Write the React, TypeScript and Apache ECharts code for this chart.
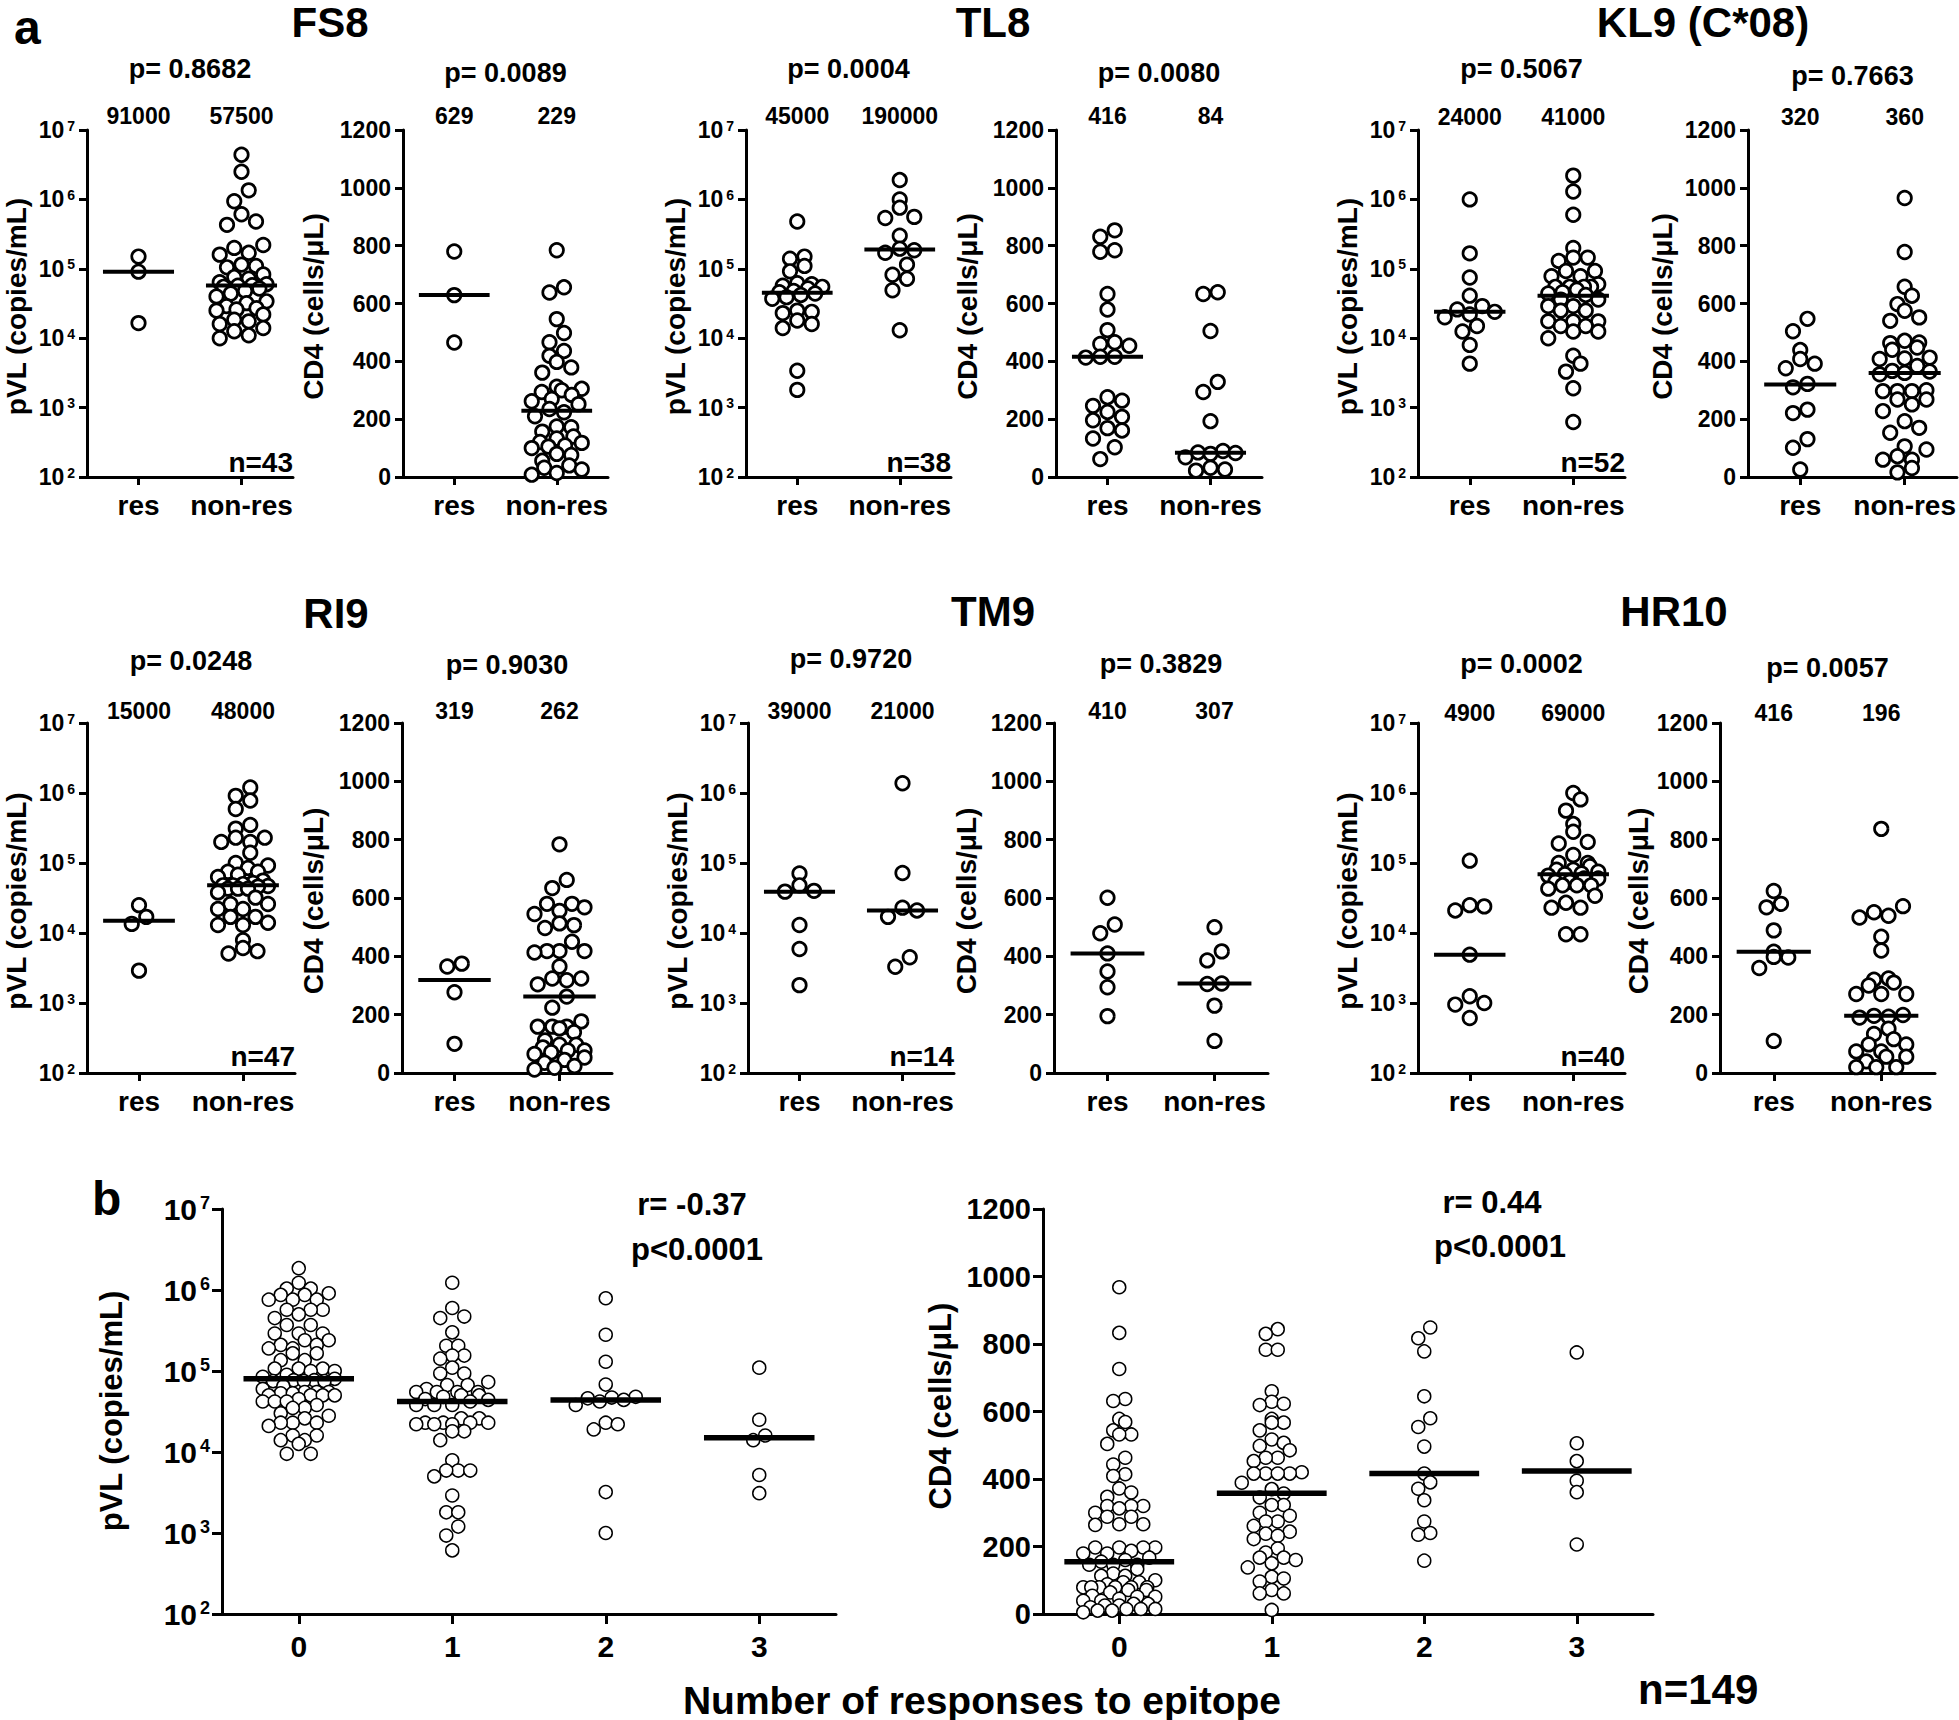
import React, { useEffect, useRef } from 'react';
import * as echarts from 'echarts';

// ---------------- DATA ----------------
const CATS_RES = ['res', 'non-res'];
const CATS_B = ['0', '1', '2', '3'];

// FS8
const FS8_PVL_RES = [150000, 91000, 16500];
const FS8_PVL_NON = [4400000, 2500000, 1350000, 940000, 610000, 480000, 430000, 220000, 200000, 170000, 160000, 115000, 110000, 105000, 83000, 76000, 72000, 64000, 60000, 58000, 57000, 55000, 52000, 48000, 44000, 40000, 34000, 32000, 29000, 27000, 26000, 25000, 22000, 18500, 17500, 16000, 14000, 12600, 11000, 10000];
const FS8_CD4_RES = [780, 629, 465];
const FS8_CD4_NON = [784, 656, 638, 546, 498, 466, 436, 419, 398, 379, 361, 312, 305, 300, 294, 284, 270, 262, 252, 235, 224, 210, 175, 172, 157, 140, 133, 121, 118, 109, 105, 100, 80, 76, 56, 40, 32, 26, 14, 8];
const FS8_MED_PVL = [91000, 57500];
const FS8_MED_CD4 = [629, 229];
const FS8_P = ['0.8682', '0.0089'];
const FS8_N = 43;

// TL8
const TL8_PVL_RES = [480000, 150000, 140000, 110000, 92000, 62000, 60000, 57000, 55000, 52000, 48000, 46000, 44000, 42000, 39000, 37000, 25000, 24000, 23000, 18000, 16000, 14000, 3400, 1800];
const TL8_PVL_NON = [1900000, 1000000, 760000, 560000, 540000, 300000, 195000, 185000, 170000, 115000, 82000, 72000, 49000, 13000];
const TL8_CD4_RES = [853, 831, 784, 779, 633, 579, 508, 466, 460, 454, 416, 416, 413, 276, 264, 246, 225, 208, 196, 169, 161, 133, 103, 62];
const TL8_CD4_NON = [639, 633, 505, 329, 294, 193, 90, 85, 83, 80, 68, 32, 26, 22];
const TL8_MED_PVL = [45000, 190000];
const TL8_MED_CD4 = [416, 84];
const TL8_P = ['0.0004', '0.0080'];
const TL8_N = 38;

// KL9 (C*08)
const KL9_PVL_RES = [1000000, 167000, 75000, 41000, 29000, 26000, 24000, 22000, 20000, 15000, 12500, 8000, 4300];
const KL9_PVL_NON = [2200000, 1300000, 600000, 200000, 145000, 145000, 130000, 93000, 93000, 78000, 78000, 60000, 55000, 55000, 55000, 55000, 50000, 46000, 44000, 42000, 36000, 36000, 29000, 29000, 25000, 25000, 17500, 17500, 17500, 15000, 15000, 12500, 12500, 10000, 5600, 4300, 3300, 1900, 620];
const KL9_CD4_RES = [547, 504, 439, 408, 392, 376, 322, 310, 233, 221, 131, 101, 26];
const KL9_CD4_NON = [965, 778, 658, 627, 598, 575, 552, 540, 471, 465, 463, 448, 440, 413, 410, 408, 384, 367, 365, 360, 355, 300, 297, 297, 297, 268, 268, 251, 228, 193, 170, 153, 106, 95, 72, 60, 60, 31, 16];
const KL9_MED_PVL = [24000, 41000];
const KL9_MED_CD4 = [320, 360];
const KL9_P = ['0.5067', '0.7663'];
const KL9_N = 52;

// RI9
const RI9_PVL_RES = [25000, 17000, 13500, 2900];
const RI9_PVL_NON = [1200000, 910000, 780000, 590000, 350000, 310000, 230000, 230000, 200000, 200000, 140000, 100000, 92000, 85000, 75000, 75000, 68000, 63000, 56000, 52000, 50000, 48000, 48000, 47000, 46000, 43000, 43000, 43000, 38000, 32000, 26000, 26000, 22000, 22000, 17000, 17000, 14000, 13000, 13000, 7900, 6100, 5500, 5100];
const RI9_CD4_RES = [375, 365, 277, 100];
const RI9_CD4_NON = [784, 662, 634, 580, 580, 568, 556, 545, 513, 507, 497, 450, 418, 418, 418, 413, 365, 324, 324, 318, 304, 262, 224, 177, 159, 159, 159, 153, 140, 112, 97, 97, 88, 77, 77, 71, 65, 53, 45, 35, 24, 18, 12];
const RI9_MED_PVL = [15000, 48000];
const RI9_MED_CD4 = [319, 262];
const RI9_P = ['0.0248', '0.9030'];
const RI9_N = 47;

// TM9
const TM9_PVL_RES = [71000, 48000, 40000, 39000, 13000, 5900, 1800];
const TM9_PVL_NON = [1380000, 72000, 23000, 21000, 17000, 4500, 3300];
const TM9_CD4_RES = [601, 509, 479, 410, 348, 294, 195];
const TM9_CD4_NON = [500, 417, 386, 307, 305, 231, 110];
const TM9_MED_PVL = [39000, 21000];
const TM9_MED_CD4 = [410, 307];
const TM9_P = ['0.9720', '0.3829'];
const TM9_N = 14;

// HR10
const HR10_PVL_RES = [108000, 25000, 24000, 21000, 4900, 1250, 1000, 950, 610];
const HR10_PVL_NON = [1000000, 810000, 560000, 360000, 280000, 200000, 190000, 130000, 100000, 100000, 90000, 80000, 80000, 75000, 71000, 69000, 66000, 60000, 60000, 54000, 54000, 48000, 48000, 48000, 43000, 34000, 27000, 23000, 23000, 9600, 9600];
const HR10_CD4_RES = [624, 580, 568, 489, 416, 398, 396, 360, 110];
const HR10_CD4_NON = [837, 572, 551, 539, 533, 467, 420, 324, 320, 310, 300, 271, 271, 271, 199, 196, 193, 190, 152, 134, 116, 98, 98, 74, 74, 56, 56, 40, 20, 20, 20];
const HR10_MED_PVL = [4900, 69000];
const HR10_MED_CD4 = [416, 196];
const HR10_P = ['0.0002', '0.0057'];
const HR10_N = 40;

// Panel b: number of responses (0,1,2,3)
const B_PVL_0 = [1860000, 1230000, 1040000, 1040000, 910000, 870000, 870000, 760000, 760000, 760000, 570000, 570000, 570000, 500000, 450000, 370000, 370000, 290000, 290000, 290000, 240000, 240000, 210000, 210000, 190000, 190000, 165000, 165000, 136000, 136000, 107000, 107000, 107000, 100000, 100000, 90000, 85000, 80000, 77000, 77000, 75000, 75000, 75000, 65000, 60000, 55000, 55000, 55000, 53000, 53000, 50000, 50000, 50000, 50000, 45000, 42000, 42000, 42000, 38000, 35000, 35000, 30000, 28000, 26000, 23000, 23000, 23000, 21000, 16000, 16000, 14000, 14000, 12600, 9500, 9500];
const B_PVL_1 = [1230000, 600000, 470000, 450000, 300000, 205000, 205000, 155000, 155000, 142000, 110000, 93000, 93000, 73000, 67000, 67000, 60000, 55000, 55000, 55000, 55000, 50000, 50000, 48000, 45000, 44000, 42000, 38000, 38000, 38000, 26000, 26000, 23000, 23000, 23000, 23000, 22000, 22000, 22000, 18000, 18000, 14000, 7900, 5900, 5900, 5900, 5000, 2900, 1800, 1800, 1200, 930, 610];
const B_PVL_2 = [790000, 280000, 130000, 68000, 48000, 47000, 46000, 44000, 42000, 38000, 23000, 22000, 19000, 3200, 1000];
const B_PVL_3 = [110000, 25000, 16000, 14000, 5200, 3100];
const B_PVL_MED = [80000, 42000, 44000, 15000];

const B_CD4_0 = [968, 833, 726, 637, 631, 578, 569, 544, 532, 532, 504, 463, 443, 414, 409, 372, 360, 347, 320, 320, 320, 313, 300, 288, 288, 266, 266, 264, 197, 197, 197, 197, 187, 179, 179, 167, 160, 155, 146, 146, 146, 133, 120, 113, 113, 100, 94, 94, 88, 79, 79, 79, 79, 79, 79, 71, 71, 64, 54, 51, 51, 45, 39, 39, 30, 30, 25, 25, 20, 15, 15, 15, 10, 10, 5];
const B_CD4_1 = [844, 830, 783, 783, 660, 629, 623, 619, 578, 567, 567, 544, 517, 507, 498, 485, 463, 463, 453, 420, 416, 416, 416, 416, 389, 370, 357, 345, 323, 323, 300, 291, 274, 274, 261, 244, 238, 232, 222, 194, 182, 167, 167, 160, 150, 138, 110, 105, 96, 71, 61, 61, 12];
const B_CD4_2 = [849, 817, 778, 645, 580, 554, 496, 416, 390, 371, 337, 274, 240, 235, 158];
const B_CD4_3 = [775, 506, 453, 395, 361, 206];
const B_CD4_MED = [155, 358, 416, 424];

const B_STATS_PVL = ['r= -0.37', 'p<0.0001'];
const B_STATS_CD4 = ['r= 0.44', 'p<0.0001'];
const B_N = 149;

// ---------------- LAYOUT ----------------
const FONT = '"Liberation Sans", Arial, Helvetica, sans-serif';
const PVL_NAME = 'pVL (copies/mL)';
const CD4_NAME = 'CD4 (cells/\u03bcL)';

type Panel = {
  kind: 'log' | 'lin';
  left: number; right: number; top: number; bottom: number;
  cats: string[]; groups: number[][]; meds: number[];
  small: boolean;
};

const R1 = { top: 130, bottom: 477 };
const R2 = { top: 723, bottom: 1073 };
const RB = { top: 1209, bottom: 1614 };

type Block = {
  title: string; tx: number; ty: number;
  pvl: [number, number]; cd4: [number, number]; row: { top: number; bottom: number };
  pvlG: number[][]; cd4G: number[][]; medP: number[]; medC: number[]; p: string[]; n: number;
  pY: [number, number]; medY: number; nY: number; cdName: number;
};

const BLOCKS: Block[] = [
  { title: 'FS8', tx: 330, ty: 22, pvl: [87, 293], cd4: [403, 608], row: R1, pvlG: [FS8_PVL_RES, FS8_PVL_NON], cd4G: [FS8_CD4_RES, FS8_CD4_NON], medP: FS8_MED_PVL, medC: FS8_MED_CD4, p: FS8_P, n: FS8_N, pY: [69, 73], medY: 116, nY: 462, cdName: 90 },
  { title: 'TL8', tx: 993, ty: 22, pvl: [746, 951], cd4: [1056, 1262], row: R1, pvlG: [TL8_PVL_RES, TL8_PVL_NON], cd4G: [TL8_CD4_RES, TL8_CD4_NON], medP: TL8_MED_PVL, medC: TL8_MED_CD4, p: TL8_P, n: TL8_N, pY: [69, 73], medY: 116, nY: 462, cdName: 89 },
  { title: 'KL9 (C*08)', tx: 1703, ty: 22, pvl: [1418, 1625], cd4: [1748, 1957], row: R1, pvlG: [KL9_PVL_RES, KL9_PVL_NON], cd4G: [KL9_CD4_RES, KL9_CD4_NON], medP: KL9_MED_PVL, medC: KL9_MED_CD4, p: KL9_P, n: KL9_N, pY: [69, 76], medY: 117, nY: 462, cdName: 86 },
  { title: 'RI9', tx: 336, ty: 613, pvl: [87, 295], cd4: [402, 612], row: R2, pvlG: [RI9_PVL_RES, RI9_PVL_NON], cd4G: [RI9_CD4_RES, RI9_CD4_NON], medP: RI9_MED_PVL, medC: RI9_MED_CD4, p: RI9_P, n: RI9_N, pY: [661, 665], medY: 711, nY: 1056, cdName: 89 },
  { title: 'TM9', tx: 993, ty: 611, pvl: [748, 954], cd4: [1054, 1268], row: R2, pvlG: [TM9_PVL_RES, TM9_PVL_NON], cd4G: [TM9_CD4_RES, TM9_CD4_NON], medP: TM9_MED_PVL, medC: TM9_MED_CD4, p: TM9_P, n: TM9_N, pY: [659, 664], medY: 711, nY: 1056, cdName: 88 },
  { title: 'HR10', tx: 1674, ty: 611, pvl: [1418, 1625], cd4: [1720, 1935], row: R2, pvlG: [HR10_PVL_RES, HR10_PVL_NON], cd4G: [HR10_CD4_RES, HR10_CD4_NON], medP: HR10_MED_PVL, medC: HR10_MED_CD4, p: HR10_P, n: HR10_N, pY: [664, 668], medY: 713, nY: 1056, cdName: 82 },
];

// Prism-like dot layout: points are binned by pixel height and spread side by side
// in each bin (staggered, capped to a maximum half-width).
function swarm(ys: number[], binH: number, hs: number, maxHalf: number): number[] {
  const idx = ys.map((_, i) => i).sort((a, b) => ys[a] - ys[b]);
  const xs = new Array(ys.length).fill(0);
  let i = 0;
  while (i < idx.length) {
    const start = ys[idx[i]];
    const bin: number[] = [];
    while (i < idx.length && ys[idx[i]] - start < binH) { bin.push(idx[i]); i++; }
    const k = bin.length;
    const step = k > 1 ? Math.min(hs, (2 * maxHalf) / (k - 1)) : 0;
    const slots: number[] = [];
    for (let j = 0; j < k; j += 2) slots.push(j);
    for (let j = 1; j < k; j += 2) slots.push(j);
    bin.forEach((p, j) => { xs[p] = (slots[j] - (k - 1) / 2) * step; });
  }
  return xs;
}

function buildOption() {
  const panels: Panel[] = [];
  const texts: any[] = [];
  const txt = (x: number, y: number, text: string, size: number, align = 'center', rot = 0) => {
    texts.push({
      type: 'text', x, y, rotation: rot, silent: true,
      style: { text, fontSize: size, fontWeight: 'bold', fontFamily: FONT, fill: '#000', align, verticalAlign: 'middle' },
    });
  };

  txt(14, 27, 'a', 48, 'left');
  txt(92, 1198, 'b', 48, 'left');

  BLOCKS.forEach((b) => {
    panels.push({ kind: 'log', left: b.pvl[0], right: b.pvl[1], top: b.row.top, bottom: b.row.bottom, cats: CATS_RES, groups: b.pvlG, meds: b.medP, small: true });
    panels.push({ kind: 'lin', left: b.cd4[0], right: b.cd4[1], top: b.row.top, bottom: b.row.bottom, cats: CATS_RES, groups: b.cd4G, meds: b.medC, small: true });
    txt(b.tx, b.ty, b.title, 42);
    const midY = (b.row.top + b.row.bottom) / 2;
    txt((b.pvl[0] + b.pvl[1]) / 2, b.pY[0], 'p= ' + b.p[0], 27);
    txt((b.cd4[0] + b.cd4[1]) / 2, b.pY[1], 'p= ' + b.p[1], 27);
    txt(b.pvl[1], b.nY, 'n=' + b.n, 28, 'right');
    txt(b.pvl[0] - 71, midY + 3, PVL_NAME, 28, 'center', Math.PI / 2);
    txt(b.cd4[0] - b.cdName, midY + 3, CD4_NAME, 28, 'center', Math.PI / 2);
    const sp = (b.pvl[1] - b.pvl[0]) / 2;
    const sc = (b.cd4[1] - b.cd4[0]) / 2;
    b.medP.forEach((m, i) => txt(b.pvl[0] + (i + 0.5) * sp, b.medY, String(m), 23));
    b.medC.forEach((m, i) => txt(b.cd4[0] + (i + 0.5) * sc, b.medY, String(m), 23));
  });

  panels.push({ kind: 'log', left: 222, right: 836, top: RB.top, bottom: RB.bottom, cats: CATS_B, groups: [B_PVL_0, B_PVL_1, B_PVL_2, B_PVL_3], meds: B_PVL_MED, small: false });
  panels.push({ kind: 'lin', left: 1043, right: 1653, top: RB.top, bottom: RB.bottom, cats: CATS_B, groups: [B_CD4_0, B_CD4_1, B_CD4_2, B_CD4_3], meds: B_CD4_MED, small: false });
  txt(692, 1204, B_STATS_PVL[0], 31);
  txt(697, 1249, B_STATS_PVL[1], 31);
  txt(1492, 1202, B_STATS_CD4[0], 31);
  txt(1500, 1246, B_STATS_CD4[1], 31);
  txt(222 - 111, 1411, PVL_NAME, 31, 'center', Math.PI / 2);
  txt(1043 - 103, 1406, CD4_NAME, 31, 'center', Math.PI / 2);
  txt(982, 1700, 'Number of responses to epitope', 39);
  txt(1638, 1689, 'n=' + B_N, 42, 'left');

  const grid: any[] = [];
  const xAxis: any[] = [];
  const yAxis: any[] = [];
  const series: any[] = [];

  panels.forEach((p, k) => {
    const W = p.right - p.left;
    const H = p.bottom - p.top;
    const aw = 3;
    const tickLen = p.small ? 8 : 10;
    const labFont = p.small ? 23 : 30;
    const supFont = p.small ? 14 : 18;
    const catFont = p.small ? 28 : 30;
    const size = p.small ? 13.5 : 13;
    const border = p.small ? 2.7 : 1.5;
    const medW = p.small ? 4 : 5.5;
    const medHalf = p.small ? 0.345 : 0.36;
    const binH = p.small ? 12.5 : 11;
    const hs = p.small ? 14.5 : 12;
    const maxHalf = p.small ? 25 : 36;

    grid.push({ left: p.left, top: p.top, width: W, height: H });
    xAxis.push({
      type: 'category', gridIndex: k, data: p.cats, boundaryGap: true,
      axisLine: { show: true, onZero: false, lineStyle: { color: '#000', width: aw } },
      axisTick: { show: true, alignWithLabel: true, length: tickLen, lineStyle: { color: '#000', width: aw } },
      axisLabel: { interval: 0, color: '#000', fontSize: catFont, fontWeight: 'bold', fontFamily: FONT, margin: p.small ? 14 : 17 },
      splitLine: { show: false },
    });
    xAxis.push({ type: 'value', gridIndex: k, min: -0.5, max: p.cats.length - 0.5, show: false });

    const common = {
      gridIndex: k,
      axisLine: { show: true, onZero: false, lineStyle: { color: '#000', width: aw } },
      axisTick: { show: true, length: tickLen, lineStyle: { color: '#000', width: aw } },
      splitLine: { show: false },
      minorTick: { show: false },
    };
    if (p.kind === 'log') {
      yAxis.push({
        ...common, type: 'log', logBase: 10, min: 100, max: 10000000,
        axisLabel: {
          margin: 12,
          formatter: (v: number) => `{b|10}{s|${Math.round(Math.log10(v))}}`,
          rich: {
            b: { fontSize: labFont, fontWeight: 'bold', fontFamily: FONT, color: '#000' },
            s: { fontSize: supFont, fontWeight: 'bold', fontFamily: FONT, color: '#000', verticalAlign: 'top', padding: [0, 0, 0, 3] },
          },
        },
      });
    } else {
      yAxis.push({
        ...common, type: 'value', min: 0, max: 1200, interval: 200,
        axisLabel: { margin: 12, color: '#000', fontSize: p.small ? 23 : 29, fontWeight: 'bold', fontFamily: FONT, formatter: (v: number) => String(v) },
      });
    }

    const spacing = W / p.cats.length;
    const toPx = p.kind === 'log' ? (v: number) => ((Math.log10(v) - 2) / 5) * H : (v: number) => (v / 1200) * H;
    p.groups.forEach((g, gi) => {
      const offs = swarm(g.map(toPx), binH, hs, maxHalf);
      series.push({
        type: 'scatter', xAxisIndex: 2 * k + 1, yAxisIndex: k, silent: true, z: 2,
        symbol: 'circle', symbolSize: size,
        itemStyle: { color: '#fff', borderColor: '#000', borderWidth: border, opacity: 1 },
        data: g.map((v, i) => [gi + offs[i] / spacing, v]),
      });
      series.push({
        type: 'line', xAxisIndex: 2 * k + 1, yAxisIndex: k, silent: true, z: 3,
        symbol: 'none', lineStyle: { color: '#000', width: medW, cap: 'butt' },
        data: [[gi - medHalf, p.meds[gi]], [gi + medHalf, p.meds[gi]]],
      });
    });
  });

  return {
    animation: false,
    backgroundColor: '#fff',
    grid, xAxis, yAxis, series,
    graphic: texts,
  };
}

export default function App() {
  const ref = useRef<HTMLDivElement>(null);
  useEffect(() => {
    if (!ref.current) return;
    const chart = echarts.init(ref.current, undefined, { renderer: 'svg' });
    chart.setOption(buildOption());
    return () => chart.dispose();
  }, []);
  return (
    <div
      ref={ref}
      style={{ position: 'absolute', left: 0, top: 0, width: 1959, height: 1720, background: '#fff' }}
    />
  );
}
